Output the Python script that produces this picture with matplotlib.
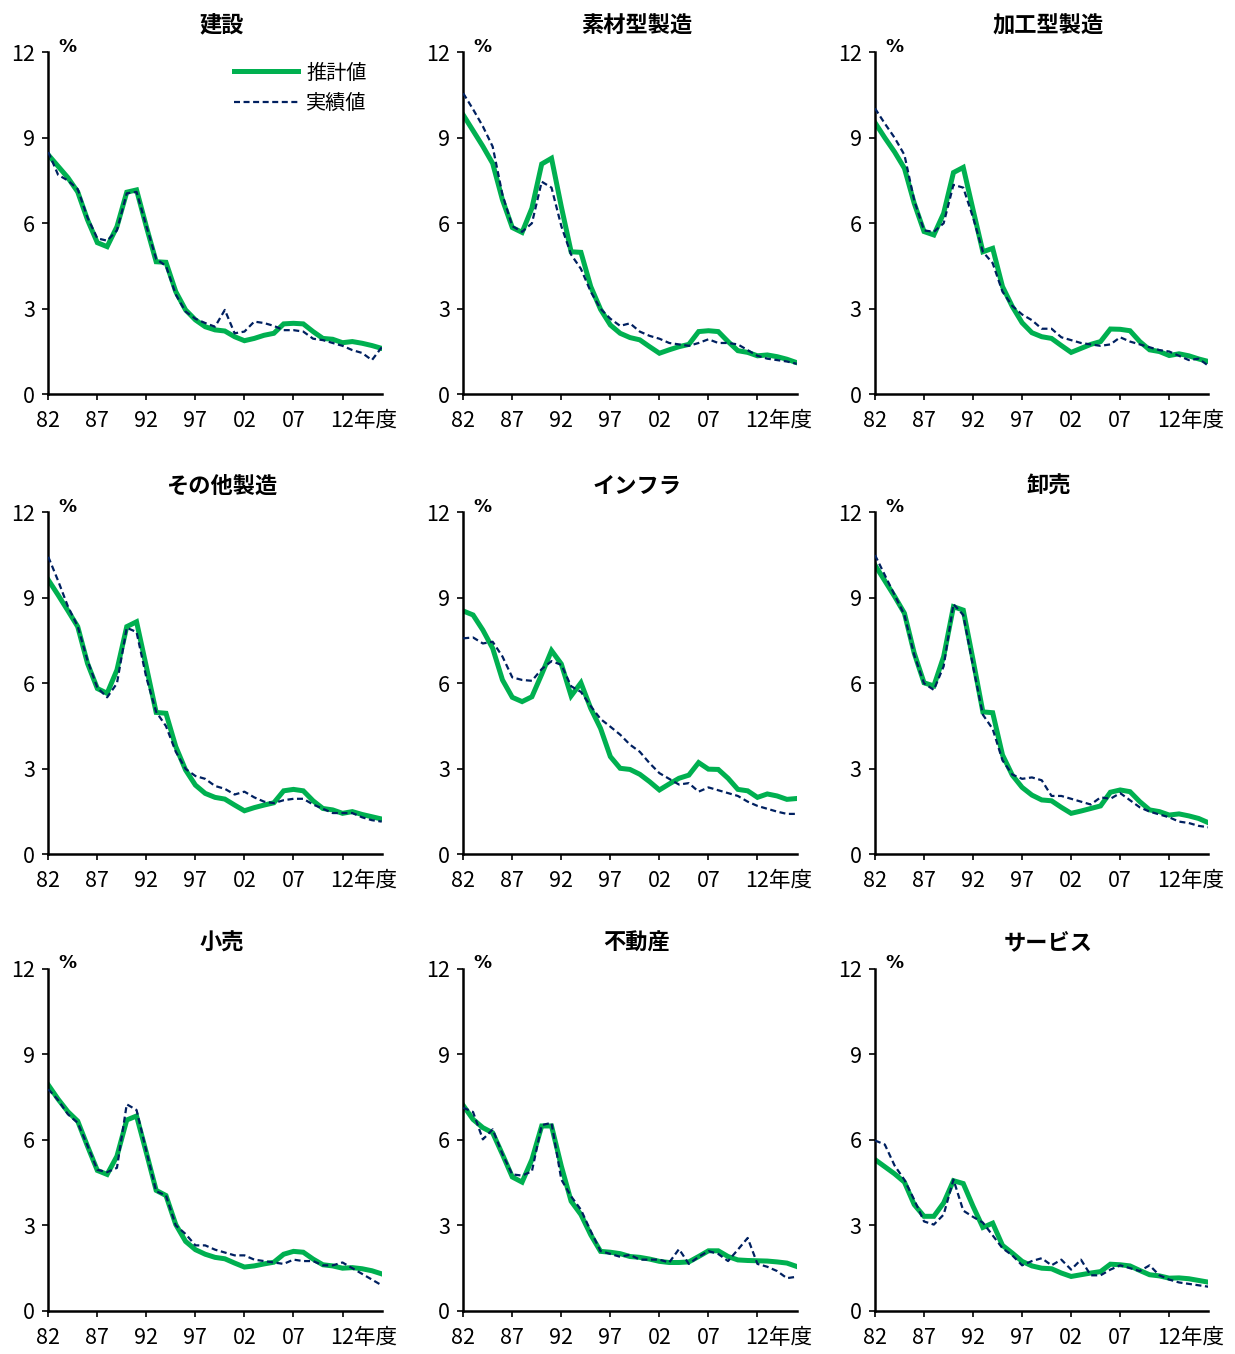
import numpy as np
import matplotlib
matplotlib.use("Agg")
import matplotlib.pyplot as plt

plt.rcParams['font.family'] = ['Noto Sans CJK JP', 'DejaVu Sans']

# 年度 1982-2016
years = np.arange(1982, 2017)

titles = ['建設', '素材型製造', '加工型製造',
          'その他製造', 'インフラ', '卸売',
          '小売', '不動産', 'サービス']

# 推計値
est_kensetsu = [8.40, 8.00, 7.60, 7.10, 6.12, 5.32, 5.18, 5.88, 7.09, 7.17,
                5.88, 4.65, 4.63, 3.60, 2.96, 2.61, 2.37, 2.26, 2.22, 2.02,
                1.88, 1.96, 2.07, 2.14, 2.47, 2.49, 2.47, 2.20, 1.96, 1.93,
                1.81, 1.85, 1.79, 1.71, 1.61]
est_sozai = [9.80, 9.25, 8.70, 8.10, 6.82, 5.85, 5.68, 6.53, 8.08, 8.28,
             6.58, 5.00, 4.98, 3.78, 2.98, 2.43, 2.14, 1.99, 1.91, 1.67,
             1.44, 1.56, 1.67, 1.75, 2.20, 2.23, 2.20, 1.85, 1.53, 1.47,
             1.35, 1.38, 1.32, 1.23, 1.11]
est_kakou = [9.53, 9.00, 8.50, 7.93, 6.70, 5.71, 5.59, 6.35, 7.78, 7.96,
             6.47, 5.00, 5.12, 3.78, 3.08, 2.51, 2.16, 2.02, 1.96, 1.71,
             1.47, 1.61, 1.75, 1.85, 2.29, 2.28, 2.23, 1.85, 1.56, 1.50,
             1.36, 1.42, 1.35, 1.24, 1.15]
est_sonota = [9.63, 9.10, 8.55, 7.99, 6.70, 5.82, 5.65, 6.47, 7.99, 8.16,
              6.58, 4.98, 4.95, 3.78, 2.96, 2.43, 2.14, 2.00, 1.94, 1.73,
              1.53, 1.64, 1.73, 1.81, 2.23, 2.28, 2.23, 1.88, 1.61, 1.56,
              1.44, 1.50, 1.40, 1.32, 1.24]
est_infra = [8.54, 8.40, 7.87, 7.23, 6.12, 5.51, 5.36, 5.53, 6.32, 7.15,
             6.68, 5.56, 6.02, 5.12, 4.42, 3.43, 3.02, 2.98, 2.81, 2.55,
             2.26, 2.47, 2.67, 2.78, 3.22, 2.99, 2.98, 2.67, 2.28, 2.23,
             2.00, 2.12, 2.05, 1.93, 1.96]
est_oroshi = [10.15, 9.60, 9.05, 8.46, 7.06, 6.02, 5.91, 6.94, 8.69, 8.57,
              6.82, 5.00, 4.97, 3.49, 2.78, 2.35, 2.08, 1.91, 1.88, 1.65,
              1.44, 1.52, 1.61, 1.70, 2.18, 2.26, 2.20, 1.85, 1.56, 1.50,
              1.38, 1.42, 1.35, 1.26, 1.11]
est_kouri = [7.93, 7.43, 6.99, 6.66, 5.78, 4.93, 4.79, 5.43, 6.70, 6.84,
             5.55, 4.23, 4.05, 3.03, 2.44, 2.15, 1.99, 1.88, 1.83, 1.68,
             1.54, 1.58, 1.65, 1.71, 1.99, 2.09, 2.06, 1.82, 1.62, 1.58,
             1.50, 1.52, 1.48, 1.41, 1.30]
est_fudousan = [7.21, 6.72, 6.43, 6.25, 5.49, 4.70, 4.52, 5.31, 6.49, 6.49,
                5.08, 3.85, 3.38, 2.67, 2.09, 2.06, 2.01, 1.91, 1.88, 1.82,
                1.74, 1.70, 1.70, 1.72, 1.91, 2.11, 2.11, 1.91, 1.79, 1.77,
                1.76, 1.75, 1.72, 1.68, 1.56]
est_service = [5.31, 5.06, 4.81, 4.52, 3.73, 3.32, 3.32, 3.79, 4.57, 4.47,
               3.67, 2.93, 3.08, 2.30, 2.03, 1.74, 1.58, 1.50, 1.48, 1.33,
               1.21, 1.27, 1.33, 1.38, 1.64, 1.62, 1.58, 1.42, 1.27, 1.23,
               1.15, 1.16, 1.13, 1.07, 1.01]

# 実績値
act_kensetsu = [8.50, 7.70, 7.50, 7.20, 6.20, 5.47, 5.39, 5.75, 7.05, 7.10,
                5.90, 4.75, 4.50, 3.50, 2.90, 2.65, 2.50, 2.37, 2.96, 2.14,
                2.20, 2.55, 2.50, 2.40, 2.25, 2.25, 2.20, 1.95, 1.90, 1.80,
                1.70, 1.55, 1.45, 1.20, 1.65]
act_sozai = [10.56, 10.00, 9.40, 8.69, 7.00, 5.90, 5.70, 6.00, 7.46, 7.25,
             5.90, 4.90, 4.40, 3.60, 3.00, 2.65, 2.40, 2.49, 2.20, 2.05,
             1.95, 1.80, 1.75, 1.70, 1.80, 1.93, 1.80, 1.80, 1.75, 1.55,
             1.35, 1.25, 1.20, 1.15, 1.07]
act_kakou = [10.03, 9.50, 9.00, 8.40, 6.80, 5.75, 5.70, 6.00, 7.35, 7.25,
             6.20, 5.00, 4.60, 3.60, 3.10, 2.80, 2.60, 2.30, 2.30, 2.00,
             1.90, 1.80, 1.75, 1.70, 1.75, 2.00, 1.85, 1.75, 1.65, 1.55,
             1.50, 1.35, 1.20, 1.25, 1.00]
act_sonota = [10.44, 9.60, 8.70, 8.00, 6.80, 5.85, 5.51, 6.00, 7.95, 7.80,
              6.20, 5.00, 4.50, 3.60, 3.00, 2.75, 2.65, 2.40, 2.30, 2.10,
              2.20, 2.00, 1.85, 1.80, 1.90, 1.95, 1.95, 1.75, 1.60, 1.45,
              1.45, 1.45, 1.30, 1.20, 1.15]
act_infra = [7.58, 7.61, 7.40, 7.46, 6.94, 6.21, 6.12, 6.09, 6.50, 6.78,
             6.65, 5.90, 5.70, 5.20, 4.75, 4.48, 4.20, 3.85, 3.60, 3.20,
             2.85, 2.65, 2.45, 2.50, 2.20, 2.35, 2.25, 2.15, 2.05, 1.85,
             1.70, 1.60, 1.50, 1.42, 1.42]
act_oroshi = [10.50, 9.80, 9.10, 8.40, 7.00, 6.00, 5.77, 6.60, 8.78, 8.40,
              6.60, 4.90, 4.40, 3.30, 2.80, 2.65, 2.70, 2.60, 2.05, 2.05,
              1.95, 1.85, 1.75, 2.00, 1.95, 2.15, 1.90, 1.65, 1.50, 1.40,
              1.30, 1.15, 1.10, 1.00, 0.95]
act_kouri = [7.78, 7.40, 6.90, 6.60, 5.80, 4.95, 4.87, 5.02, 7.25, 7.05,
             5.60, 4.20, 4.05, 3.00, 2.70, 2.30, 2.30, 2.15, 2.05, 1.95,
             1.95, 1.80, 1.75, 1.70, 1.65, 1.80, 1.75, 1.75, 1.60, 1.60,
             1.70, 1.50, 1.30, 1.10, 0.90]
act_fudousan = [7.13, 6.98, 6.02, 6.37, 5.50, 4.79, 4.75, 4.90, 6.52, 6.60,
                4.61, 4.02, 3.55, 2.80, 2.10, 2.00, 1.90, 1.97, 1.80, 1.80,
                1.80, 1.70, 2.17, 1.65, 1.90, 2.10, 2.00, 1.75, 2.15, 2.56,
                1.65, 1.55, 1.40, 1.15, 1.20]
act_service = [5.98, 5.84, 5.10, 4.60, 3.90, 3.14, 3.03, 3.38, 4.61, 3.52,
               3.30, 3.10, 2.65, 2.20, 1.95, 1.60, 1.75, 1.85, 1.60, 1.80,
               1.45, 1.80, 1.25, 1.25, 1.45, 1.60, 1.50, 1.40, 1.60, 1.25,
               1.10, 1.00, 0.95, 0.90, 0.85]

estimates = [est_kensetsu, est_sozai, est_kakou, est_sonota, est_infra,
             est_oroshi, est_kouri, est_fudousan, est_service]
actuals = [act_kensetsu, act_sozai, act_kakou, act_sonota, act_infra,
           act_oroshi, act_kouri, act_fudousan, act_service]

xticks = [1982, 1987, 1992, 1997, 2002, 2007, 2012]
xticklabels = ['82', '87', '92', '97', '02', '07', '12']
yticks = [0, 3, 6, 9, 12]

green = '#00B050'
navy = '#002060'

fig = plt.figure(figsize=(12.35, 13.54), dpi=100)

lefts = [0.0391, 0.3751, 0.7085]
bottoms = [0.7088, 0.3690, 0.0318]
w, h = 0.270, 0.2526

for i in range(9):
    r, c = divmod(i, 3)
    ax = fig.add_axes([lefts[c], bottoms[r], w, h])
    ax.plot(years, estimates[i], color=green, lw=3.6, solid_joinstyle='miter',
            label='推計値', zorder=2)
    ax.plot(years, actuals[i], color=navy, lw=1.6, linestyle=(0, (2.7, 1.6)),
            label='実績値', zorder=3)

    ax.set_xlim(1982, 2016)
    ax.set_ylim(0, 12)
    ax.set_xticks(xticks)
    ax.set_xticklabels(xticklabels, fontsize=15.5)
    ax.set_yticks(yticks)
    ax.set_yticklabels([str(v) for v in yticks], fontsize=15.5)
    ax.tick_params(axis='both', direction='out', length=4.5, width=1.2,
                   color='black')
    ax.tick_params(axis='x', pad=7)
    ax.tick_params(axis='y', pad=5)
    for side in ['top', 'right']:
        ax.spines[side].set_visible(False)
    for side in ['left', 'bottom']:
        ax.spines[side].set_linewidth(1.8)
        ax.spines[side].set_color('black')

    ax.set_title(titles[i], fontsize=16, fontweight='bold', pad=14, x=0.52)
    ax.text(0.03, 0.99, '%', transform=ax.transAxes, fontsize=13,
            fontweight='bold', ha='left', va='bottom', family='DejaVu Sans')
    ax.annotate('年度', xy=(2012, 0), xycoords=ax.get_xaxis_transform(),
                xytext=(8.5, -11.5), textcoords='offset points',
                ha='left', va='top', fontsize=15.5)

    if i == 0:
        ax.legend(loc='upper right', bbox_to_anchor=(0.955, 0.97),
                  frameon=False, fontsize=14.5, handlelength=3.2,
                  handletextpad=0.4, labelspacing=0.45, borderaxespad=0,
                  borderpad=0)

fig.savefig('out.png', dpi=100)
